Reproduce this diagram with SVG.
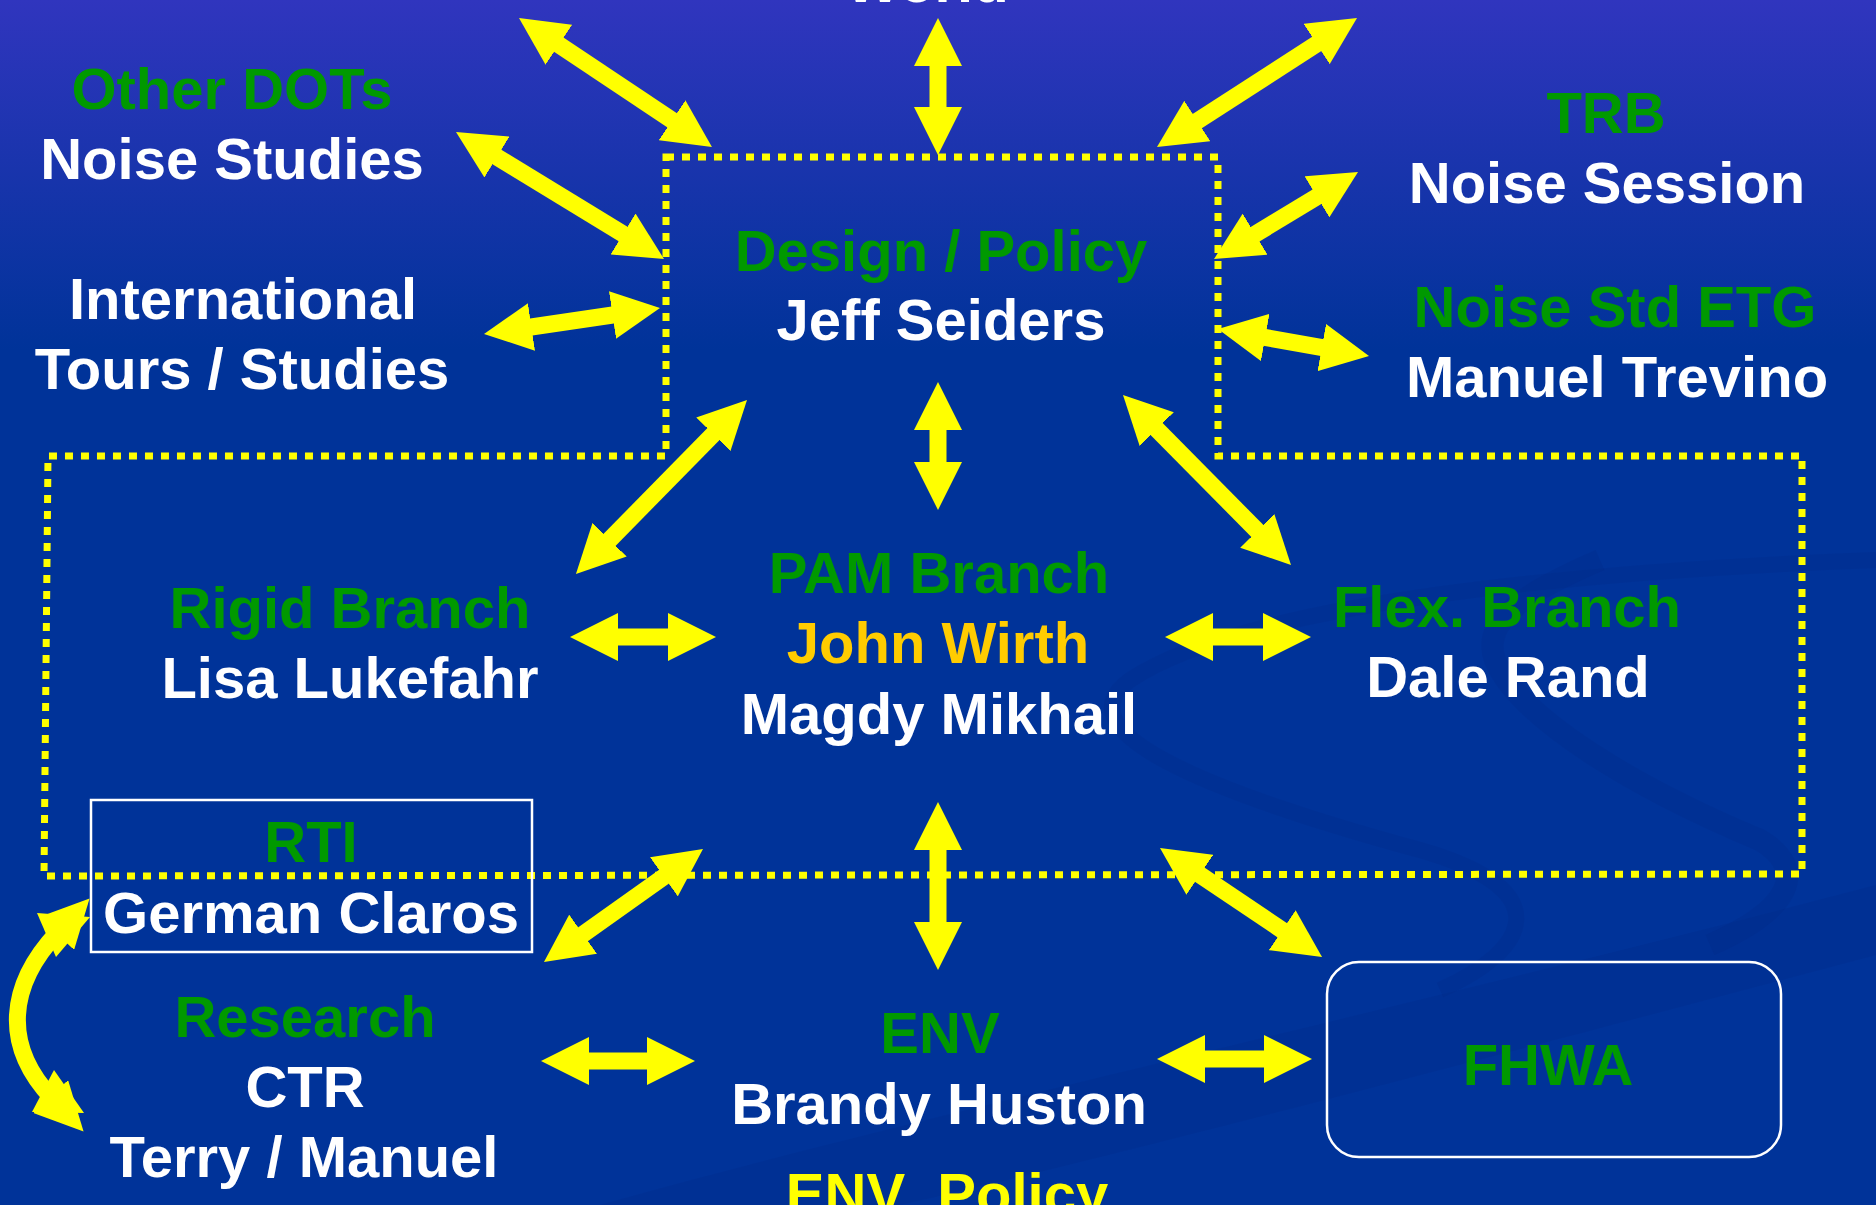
<svg xmlns="http://www.w3.org/2000/svg" width="1876" height="1205" viewBox="0 0 1876 1205">
<defs>
<linearGradient id="bg" gradientUnits="userSpaceOnUse" x1="0" y1="0" x2="0" y2="350">
<stop offset="0" stop-color="#3035BE"/>
<stop offset="1" stop-color="#003399"/>
</linearGradient>
<marker id="head" viewBox="0 0 48 48" refX="2" refY="24" markerWidth="48" markerHeight="48" markerUnits="userSpaceOnUse" orient="auto-start-reverse">
<path d="M0,0 L48,24 L0,48 Z" fill="#FFFF00"/>
</marker>
<style>
text{font-family:"Liberation Sans",Arial,Helvetica,sans-serif;font-weight:bold;font-size:58px;text-anchor:middle}
.g{fill:#009900}
.w{fill:#FFFFFF}
.o{fill:#FFCC00}
.y{fill:#FFFF00}
.arr path{fill:none;stroke:#FFFF00;stroke-width:17;marker-start:url(#head);marker-end:url(#head)}
.box{fill:none;stroke:#FFFFFF;stroke-width:2.5}
.dots{fill:none;stroke:#FFFF00;stroke-width:7;stroke-dasharray:8 8}
.sw{fill:none;stroke:#00287F;stroke-opacity:0.18}
</style>
</defs>

<g id="background">
<rect x="0" y="0" width="1876" height="1205" fill="url(#bg)"/>
<path d="M600,1205 C900,1120 1400,1010 1876,885 L1876,955 C1500,1055 1100,1160 900,1205 Z" fill="#00287F" fill-opacity="0.18"/>
<path class="sw" stroke-width="16" d="M1876,560 C1600,570 1250,600 1130,680 C1060,730 1200,790 1420,850 C1560,890 1530,950 1440,990"/>
<path class="sw" stroke-width="22" d="M1600,560 C1530,590 1480,620 1495,660 C1520,720 1640,790 1760,840 C1810,870 1790,910 1710,945"/>
</g>

<g id="boundary">
<path class="dots" d="M666,157 L1218,157 L1218,456 L1802,456 L1802,874 L44,876 L48,456 L666,456 Z"/>
</g>

<g id="connectors" class="arr">
<g transform="translate(519,18) rotate(33.76)"><path d="M46,0H186.1"/></g>
<g transform="translate(938,18) rotate(90)"><path d="M46,0H91"/></g>
<g transform="translate(1357,18) rotate(147.18)"><path d="M46,0H192"/></g>
<g transform="translate(456,132) rotate(31.41)"><path d="M46,0H197.7"/></g>
<g transform="translate(484,334) rotate(-8.4)"><path d="M46,0H131.9"/></g>
<g transform="translate(1358,172) rotate(148.86)"><path d="M46,0H122.2"/></g>
<g transform="translate(1218,329) rotate(10.14)"><path d="M46,0H107.4"/></g>
<g transform="translate(747,400) rotate(134.51)"><path d="M46,0H198"/></g>
<g transform="translate(938,382) rotate(90)"><path d="M46,0H82"/></g>
<g transform="translate(1123,395) rotate(45.34)"><path d="M46,0H193"/></g>
<g transform="translate(570,637)"><path d="M46,0H100"/></g>
<g transform="translate(1165,637)"><path d="M46,0H100"/></g>
<g transform="translate(703,849) rotate(144.6)"><path d="M46,0H149.1"/></g>
<g transform="translate(938,802) rotate(90)"><path d="M46,0H122"/></g>
<g transform="translate(1160,848) rotate(33.93)"><path d="M46,0H149.3"/></g>
<g transform="translate(541,1061)"><path d="M46,0H108"/></g>
<g transform="translate(1157,1059)"><path d="M46,0H109"/></g>
<g id="curved">
<path d="M58,932 C8,985 2,1045 52,1098" fill="none" stroke="#FFFF00" stroke-width="17"/>
<polygon points="90,917 37,913 56,957" fill="#FFFF00"/>
<polygon points="84,1113 32,1112 54,1070" fill="#FFFF00"/>
</g>
</g>

<g id="world"><text class="w" x="927" y="2">World</text></g>
<g id="other-dots"><text class="g" x="232" y="109">Other DOTs</text><text class="w" x="232" y="179">Noise Studies</text></g>
<g id="international"><text class="w" x="243" y="319">International</text><text class="w" x="242" y="389">Tours / Studies</text></g>
<g id="design"><text class="g" x="941" y="271">Design / Policy</text><text class="w" x="941" y="340">Jeff Seiders</text></g>
<g id="trb"><text class="g" x="1606" y="133">TRB</text><text class="w" x="1607" y="203">Noise Session</text></g>
<g id="etg"><text class="g" x="1615" y="327">Noise Std ETG</text><text class="w" x="1617" y="397">Manuel Trevino</text></g>
<g id="rigid"><text class="g" x="350" y="628">Rigid Branch</text><text class="w" x="350" y="698">Lisa Lukefahr</text></g>
<g id="pam"><text class="g" x="939" y="593">PAM Branch</text><text class="o" x="938" y="663">John Wirth</text><text class="w" x="939" y="734">Magdy Mikhail</text></g>
<g id="flex"><text class="g" x="1507" y="627">Flex. Branch</text><text class="w" x="1508" y="697">Dale Rand</text></g>
<g id="rti"><rect class="box" x="91" y="800" width="441" height="152"/><text class="g" x="311" y="862">RTI</text><text class="w" x="311" y="933">German Claros</text></g>
<g id="research"><text class="g" x="305" y="1037">Research</text><text class="w" x="305" y="1107">CTR</text><text class="w" x="304" y="1177">Terry / Manuel</text></g>
<g id="env"><text class="g" x="940" y="1053">ENV</text><text class="w" x="939" y="1124">Brandy Huston</text><text class="y" x="947" y="1214" xml:space="preserve">ENV  Policy</text></g>
<g id="fhwa"><rect class="box" x="1327" y="962" width="454" height="195" rx="32" ry="32"/><text class="g" x="1548" y="1085">FHWA</text></g>
</svg>
